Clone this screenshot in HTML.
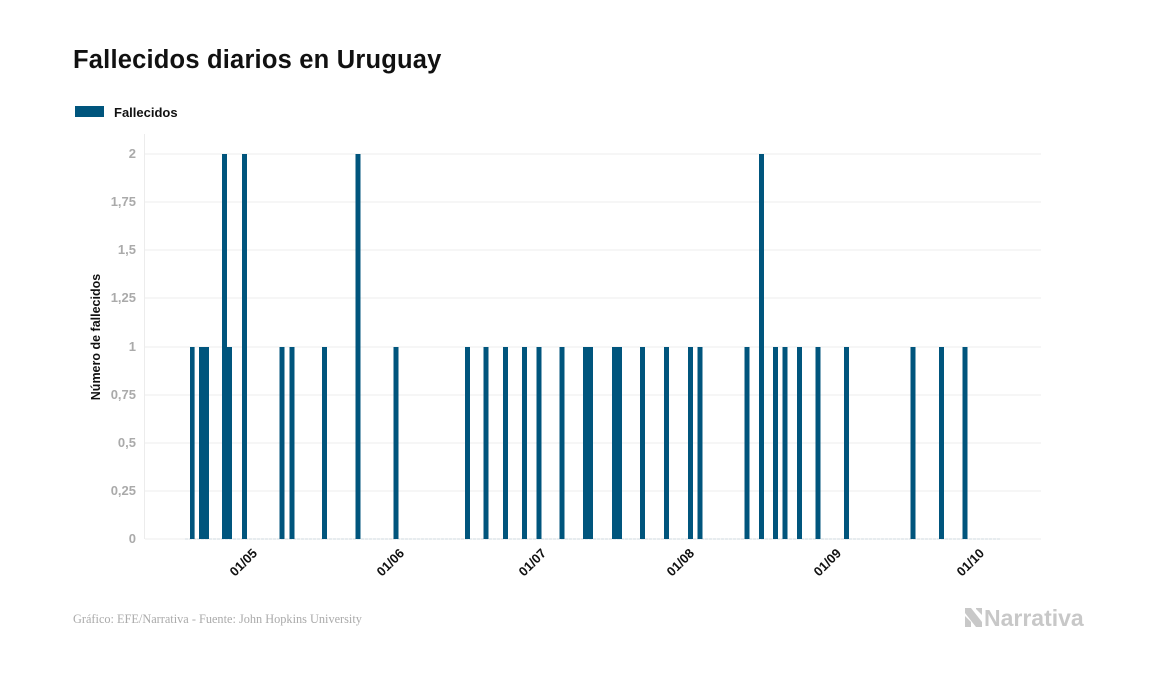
<!DOCTYPE html>
<html><head><meta charset="utf-8"><style>
body{margin:0;background:#fff;}
svg{display:block;font-family:"Liberation Sans",sans-serif;}
</style></head><body>
<svg width="1157" height="674" viewBox="0 0 1157 674" xmlns="http://www.w3.org/2000/svg">
<rect width="1157" height="674" fill="#fff"/>
<text x="73" y="68" font-size="25.5" font-weight="bold" fill="#111" letter-spacing="0.2">Fallecidos diarios en Uruguay</text>
<rect x="75" y="106" width="29" height="11" fill="#00557d"/>
<text x="114" y="117" font-size="13" font-weight="bold" fill="#111">Fallecidos</text>
<g stroke="#ececec" stroke-width="1">
<line x1="145" y1="154" x2="1041" y2="154"/><line x1="145" y1="202" x2="1041" y2="202"/>
<line x1="145" y1="250" x2="1041" y2="250"/><line x1="145" y1="298" x2="1041" y2="298"/>
<line x1="145" y1="347" x2="1041" y2="347"/><line x1="145" y1="395" x2="1041" y2="395"/>
<line x1="145" y1="443" x2="1041" y2="443"/><line x1="145" y1="491" x2="1041" y2="491"/>
<line x1="145" y1="539" x2="1041" y2="539"/><line x1="144.5" y1="134" x2="144.5" y2="539"/>
</g>
<line x1="185" y1="539" x2="1000" y2="539" stroke="#cfd8df" stroke-width="1" stroke-dasharray="3,1"/>
<g font-size="13" font-weight="bold" fill="#aaa" text-anchor="end">
<text x="136" y="158">2</text><text x="136" y="206">1,75</text><text x="136" y="254">1,5</text>
<text x="136" y="302">1,25</text><text x="136" y="351">1</text><text x="136" y="399">0,75</text>
<text x="136" y="447">0,5</text><text x="136" y="495">0,25</text><text x="136" y="543">0</text>
</g>
<text transform="translate(100,337) rotate(-90)" text-anchor="middle" font-size="12.5" font-weight="bold" fill="#111">Número de fallecidos</text>
<g fill="#00557d">
<rect x="190" y="347" width="4.6" height="192"/>
<rect x="199" y="347" width="10" height="192"/>
<rect x="222" y="154" width="5" height="385"/>
<rect x="227" y="347" width="5" height="192"/>
<rect x="242" y="154" width="5" height="385"/>
<rect x="279.5" y="347" width="5" height="192"/>
<rect x="289.5" y="347" width="5" height="192"/>
<rect x="322" y="347" width="5" height="192"/>
<rect x="355.5" y="154" width="5" height="385"/>
<rect x="393.5" y="347" width="5" height="192"/>
<rect x="465" y="347" width="5" height="192"/>
<rect x="483.5" y="347" width="5" height="192"/>
<rect x="503" y="347" width="5" height="192"/>
<rect x="522" y="347" width="5" height="192"/>
<rect x="536.5" y="347" width="5" height="192"/>
<rect x="559.5" y="347" width="5" height="192"/>
<rect x="583" y="347" width="10" height="192"/>
<rect x="612" y="347" width="10" height="192"/>
<rect x="640" y="347" width="5" height="192"/>
<rect x="664" y="347" width="5" height="192"/>
<rect x="688" y="347" width="5" height="192"/>
<rect x="697.5" y="347" width="5" height="192"/>
<rect x="744.5" y="347" width="5" height="192"/>
<rect x="759" y="154" width="5" height="385"/>
<rect x="773" y="347" width="5" height="192"/>
<rect x="782.5" y="347" width="5" height="192"/>
<rect x="797" y="347" width="5" height="192"/>
<rect x="815.5" y="347" width="5" height="192"/>
<rect x="844" y="347" width="5" height="192"/>
<rect x="910.5" y="347" width="5" height="192"/>
<rect x="939" y="347" width="5" height="192"/>
<rect x="962.5" y="347" width="5" height="192"/>
</g>
<g font-size="13" font-weight="bold" fill="#111" text-anchor="end">
<text transform="translate(258,554) rotate(-45)">01/05</text>
<text transform="translate(405,554) rotate(-45)">01/06</text>
<text transform="translate(547,554) rotate(-45)">01/07</text>
<text transform="translate(695,554) rotate(-45)">01/08</text>
<text transform="translate(842,554) rotate(-45)">01/09</text>
<text transform="translate(985,554) rotate(-45)">01/10</text>
</g>
<text x="73" y="623" font-family="Liberation Serif,serif" font-size="12.3" fill="#aaa">Gráfico: EFE/Narrativa - Fuente: John Hopkins University</text>
<g fill="#c8c8c8">
<polygon points="965,608 971,608 982,622 982,627 976,627 965,613"/>
<polygon points="965,616 971,622 971,627 965,627"/>
<polygon points="976,608 982,608 982,615 976,609"/>
</g>
<text x="984" y="626" font-size="23" font-weight="bold" fill="#c8c8c8">Narrativa</text>
</svg>
</body></html>
